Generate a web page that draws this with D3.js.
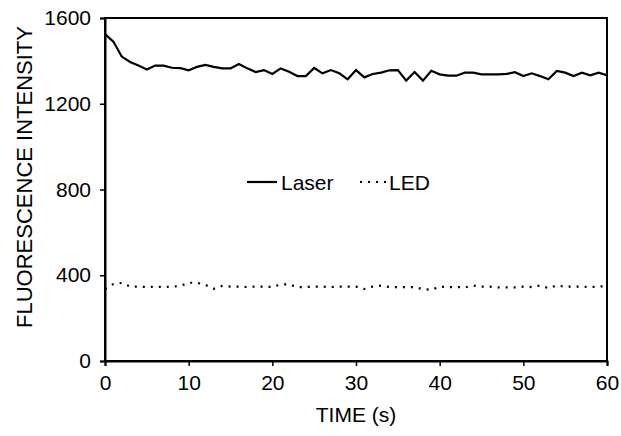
<!DOCTYPE html>
<html>
<head>
<meta charset="utf-8">
<script src="https://cdn.jsdelivr.net/npm/d3@7"></script>
<style>
  body { margin: 0; background: #fff; }
  svg text { font-family: "Liberation Sans", Arial, sans-serif; fill: #000; }
</style>
</head>
<body>
<svg width="621" height="436"></svg>
<script>
const timeSec = d3.range(0, 61);

const laser = [
  1525, 1490, 1420, 1395, 1378, 1360, 1378, 1378, 1368, 1366,
  1356, 1372, 1381, 1372, 1365, 1365, 1385, 1365, 1348, 1357,
  1339, 1365, 1349, 1329, 1329, 1367, 1342, 1357, 1342, 1314,
  1357, 1323, 1339, 1345, 1356, 1357, 1308, 1348, 1308, 1354,
  1337, 1331, 1331, 1345, 1345, 1337, 1337, 1337, 1339, 1347,
  1329, 1342, 1329, 1314, 1353, 1345, 1329, 1345, 1333, 1345,
  1333
];

const led = [
  336, 359, 364, 347, 347, 345, 347, 345, 347, 350,
  365, 365, 355, 337, 350, 347, 347, 345, 347, 347,
  345, 357, 357, 345, 345, 347, 347, 345, 347, 347,
  347, 336, 347, 352, 345, 345, 345, 345, 335, 332,
  347, 345, 345, 343, 352, 347, 347, 343, 343, 343,
  347, 345, 352, 340, 352, 347, 347, 347, 345, 347,
  350
];

const xTicks = [0, 10, 20, 30, 40, 50, 60];
const yTicks = [0, 400, 800, 1200, 1600];

const FONT = '21px';

const svg = d3.select('svg');
const margin = { left: 105, right: 14, top: 18, bottom: 75 };
const width = 621, height = 436;

const x = d3.scaleLinear().domain([0, 60]).range([margin.left, width - margin.right]);
const y = d3.scaleLinear().domain([0, 1600]).range([height - margin.bottom, margin.top]);

// frame
svg.append('rect')
  .attr('x', x(0)).attr('y', y(1600))
  .attr('width', x(60) - x(0)).attr('height', y(0) - y(1600))
  .attr('fill', 'none').attr('stroke', '#000').attr('stroke-width', 2);

const xAxis = svg.append('g')
  .attr('transform', `translate(0,${y(0)})`)
  .call(d3.axisBottom(x).tickValues(xTicks).tickFormat(d3.format('d')).tickSize(5).tickPadding(9));
const yAxis = svg.append('g')
  .attr('transform', `translate(${x(0)},0)`)
  .call(d3.axisLeft(y).tickValues(yTicks).tickFormat(d3.format('d')).tickSize(5).tickPadding(9));

[xAxis, yAxis].forEach(g => {
  g.select('.domain').attr('stroke-width', 2);
  g.selectAll('.tick line').attr('stroke-width', 1.5);
  g.selectAll('.tick text').style('font-size', FONT);
});

const line = d3.line()
  .x((d, i) => x(timeSec[i]))
  .y(d => y(d));

svg.append('path')
  .datum(laser)
  .attr('d', line)
  .attr('fill', 'none')
  .attr('stroke', '#000')
  .attr('stroke-width', 2.2);

svg.append('path')
  .datum(led)
  .attr('d', line)
  .attr('fill', 'none')
  .attr('stroke', '#000')
  .attr('stroke-width', 2.2)
  .attr('stroke-dasharray', '2,6');

// legend
const legend = svg.append('g').attr('transform', 'translate(247,182)');
legend.append('line').attr('x1', 0).attr('x2', 30).attr('y1', 0).attr('y2', 0)
  .attr('stroke', '#000').attr('stroke-width', 2.2);
legend.append('text').attr('x', 34).attr('y', 8)
  .style('font-size', FONT).text('Laser');
legend.append('line').attr('x1', 113).attr('x2', 140).attr('y1', 0).attr('y2', 0)
  .attr('stroke', '#000').attr('stroke-width', 2.2).attr('stroke-dasharray', '2,6');
legend.append('text').attr('x', 142).attr('y', 8)
  .style('font-size', FONT).text('LED');

// axis titles
svg.append('text')
  .attr('x', (x(0) + x(60)) / 2).attr('y', 422)
  .attr('text-anchor', 'middle').style('font-size', FONT)
  .text('TIME (s)');

svg.append('text')
  .attr('transform', `translate(32,177) rotate(-90)`)
  .attr('text-anchor', 'middle').style('font-size', '22px')
  .text('FLUORESCENCE INTENSITY');
</script>
</body>
</html>
